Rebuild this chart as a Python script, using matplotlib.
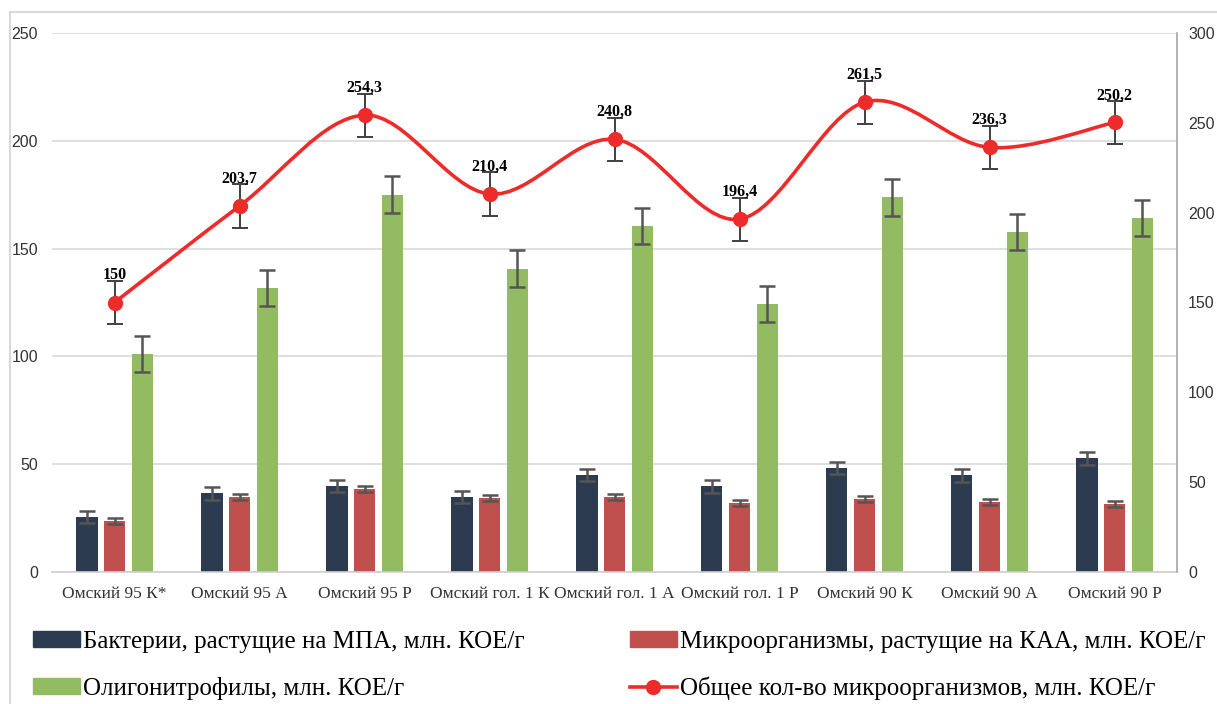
import numpy as np
import matplotlib
matplotlib.use("Agg")
import matplotlib.pyplot as plt
from matplotlib.path import Path
from matplotlib.patches import PathPatch, Rectangle
from matplotlib.lines import Line2D
from matplotlib.patches import Patch

# data
categories = ["Омский 95 К*", "Омский 95 А", "Омский 95 Р", "Омский гол. 1 К",
              "Омский гол. 1 А", "Омский гол. 1 Р", "Омский 90 К", "Омский 90 А",
              "Омский 90 Р"]
mpa = [25.5, 36.6, 39.9, 34.8, 45.0, 39.8, 48.2, 44.8, 52.7]
mpa_err = [2.8, 3.0, 3.0, 3.0, 2.9, 3.0, 2.9, 3.0, 2.9]
kaa = [23.6, 34.8, 38.5, 34.3, 34.8, 32.0, 33.7, 32.6, 31.4]
kaa_err = [1.4, 1.4, 1.5, 1.5, 1.5, 1.5, 1.4, 1.4, 1.4]
oligo = [101.0, 131.7, 174.9, 140.7, 160.5, 124.4, 173.9, 157.7, 164.2]
oligo_err = [8.3, 8.4, 8.6, 8.6, 8.5, 8.3, 8.6, 8.3, 8.4]
total = [150, 203.7, 254.3, 210.4, 240.8, 196.4, 261.5, 236.3, 250.2]
total_err = [12, 12, 12, 12, 12, 12, 12, 12, 12]
total_labels = ["150", "203,7", "254,3", "210,4", "240,8", "196,4", "261,5", "236,3", "250,2"]

legend_labels = ["Бактерии, растущие на МПА, млн. КОЕ/г",
                 "Олигонитрофилы, млн. КОЕ/г",
                 "Микроорганизмы, растущие на КАА, млн. КОЕ/г",
                 "Общее кол-во микроорганизмов, млн. КОЕ/г"]

c_dark = "#2c3b4f"
c_red = "#c0504d"
c_green = "#93bb61"
c_line = "#ee2b2b"
serif = ["Liberation Serif", "DejaVu Serif"]
sans = ["Liberation Sans", "DejaVu Sans"]

fig = plt.figure(figsize=(12.17, 7.04), dpi=100)
fig.patches.append(Rectangle((10 / 1217, -0.1), 1.2, 1 - 12 / 704 + 0.1,
                             transform=fig.transFigure, fill=False,
                             edgecolor="#d9d9d9", lw=1.5, zorder=0))

ax = fig.add_axes([52 / 1217, 1 - 572 / 704, 1125 / 1217, 539 / 704])
x = np.arange(len(categories))
w = 0.172
off = 0.222
ekw = dict(ecolor="#555555", elinewidth=1.8, capsize=5.5, capthick=1.8)
ax.bar(x - off, mpa, w, color=c_dark, yerr=mpa_err, error_kw=ekw, zorder=2)
ax.bar(x, kaa, w, color=c_red, yerr=kaa_err, error_kw=ekw, zorder=2)
ax.bar(x + off, oligo, w, color=c_green, yerr=oligo_err, error_kw=ekw, zorder=2)

ax.set_xlim(-0.5, len(categories) - 0.5)
ax.set_ylim(0, 250)
ax.set_yticks(np.arange(0, 251, 50))
ax.yaxis.grid(True, color="#d9d9d9", lw=1.2, zorder=0)
ax.set_axisbelow(True)
ax.set_xticks(x)
ax.set_xticklabels(categories, family=serif, fontsize=12.5, color="#333333")
ax.tick_params(axis="x", length=0, pad=10)
ax.tick_params(axis="y", length=0, pad=10, labelsize=11.5, labelcolor="#333333")
for lab in ax.get_yticklabels():
    lab.set_family(sans)
for s in ["left", "top", "right"]:
    ax.spines[s].set_visible(False)
ax.spines["bottom"].set_color("#d0d0d0")
ax.spines["bottom"].set_linewidth(1.2)

ax2 = ax.twinx()
ax2.set_ylim(0, 300)
ax2.set_yticks(np.arange(0, 301, 50))
ax2.tick_params(axis="y", length=0, pad=8, labelsize=11.5, labelcolor="#333333")
for lab in ax2.get_yticklabels():
    lab.set_family(sans)
for s in ["left", "top", "bottom"]:
    ax2.spines[s].set_visible(False)
ax2.spines["right"].set_color("#a6a6a6")
ax2.spines["right"].set_linewidth(1.2)

# smoothed line (Excel-style bezier through the points)
pts = np.column_stack([x, total]).astype(float)
verts = [tuple(pts[0])]
codes = [Path.MOVETO]
n = len(pts)
for i in range(n - 1):
    p0 = pts[i - 1] if i > 0 else pts[i]
    p1 = pts[i]
    p2 = pts[i + 1]
    p3 = pts[i + 2] if i + 2 < n else pts[i + 1]
    c1 = p1 + (p2 - p0) / 6
    c2 = p2 - (p3 - p1) / 6
    verts += [tuple(c1), tuple(c2), tuple(p2)]
    codes += [Path.CURVE4] * 3
ax2.add_patch(PathPatch(Path(verts, codes), fill=False, edgecolor=c_line,
                        lw=2.6, zorder=3))
ax2.errorbar(x, total, yerr=total_err, fmt="none", ecolor="#404040",
             elinewidth=1.4, capsize=6, capthick=1.4, zorder=3)
ax2.plot(x, total, "o", color=c_line, markersize=10, zorder=4)
for xi, yi, t in zip(x, total, total_labels):
    ax2.annotate(t, (xi, yi), xytext=(0, 19.5), textcoords="offset points",
                 ha="center", va="center", family=serif, fontsize=11.5,
                 fontweight="bold", color="black", zorder=5)

handles = [Patch(color=c_dark), Patch(color=c_green), Patch(color=c_red),
           Line2D([], [], color=c_line, lw=2.6, marker="o", markersize=10)]
fig.legend(handles, legend_labels, loc="upper left",
           bbox_to_anchor=(33 / 1217, 1 - 631 / 704), ncol=2, frameon=False,
           prop={"family": serif, "size": 18}, handlelength=1.88,
           handleheight=0.6, handletextpad=0.12, columnspacing=4.2,
           labelspacing=0.95, borderaxespad=0, borderpad=0)

fig.savefig("out.png", dpi=100)
